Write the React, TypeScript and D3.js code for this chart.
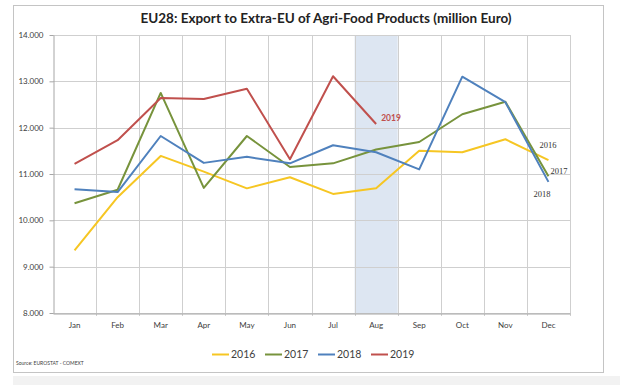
import React, {useEffect, useRef} from 'react';
import * as d3 from 'd3';

// chart data (million Euro)
const months = ['Jan', 'Feb', 'Mar', 'Apr', 'May', 'Jun', 'Jul', 'Aug', 'Sep', 'Oct', 'Nov', 'Dec'];
const years = ['2016', '2017', '2018', '2019'];
const values2016 = [9350, 10500, 11390, 11050, 10690, 10930, 10570, 10690, 11500, 11470, 11750, 11300];
const values2017 = [10370, 10660, 12750, 10700, 11820, 11150, 11230, 11530, 11690, 12290, 12560, 10950];
const values2018 = [10670, 10610, 11820, 11240, 11370, 11230, 11620, 11470, 11100, 13100, 12550, 10830];
const values2019 = [11220, 11730, 12640, 12620, 12840, 11320, 13110, 12080];
const yTicks = [8000, 9000, 10000, 11000, 12000, 13000, 14000];
const colors = ['#f6c623', '#77933c', '#4f81bd', '#c0504d'];

export default function App() {
  const svgRef = useRef(null);

  useEffect(() => {
    const svg = d3.select(svgRef.current);
    svg.selectAll('*').remove();

    const W = 620, H = 385;
    const left = 53, right = 570, top = 35, bottom = 313;
    const font = 'Lato, "Open Sans", sans-serif';

    // grey strip at the bottom of the page
    svg.append('rect').attr('x', 13).attr('y', 376).attr('width', W - 13).attr('height', H - 376).attr('fill', '#f2f2f2');
    // frame
    svg.append('rect').attr('x', 13.5).attr('y', 5.5).attr('width', 590).attr('height', 367)
      .attr('fill', '#fff').attr('stroke', '#c4c4c4');

    const x = d3.scaleBand().domain(months).range([left, right]);
    const y = d3.scaleLinear().domain([8000, 14000]).range([bottom, top]);
    const fmt = d3.formatLocale({decimal: ',', thousands: '.', grouping: [3], currency: ['', '']}).format(',');

    // highlighted month
    svg.append('rect').attr('x', x('Aug')).attr('y', top).attr('width', x.bandwidth()).attr('height', bottom - top)
      .attr('fill', '#dde6f2');

    // grid
    const g = svg.append('g');
    g.selectAll('.h').data(yTicks).enter().append('line')
      .attr('x1', left).attr('x2', right)
      .attr('y1', (d) => Math.round(y(d)) + 0.5).attr('y2', (d) => Math.round(y(d)) + 0.5)
      .attr('stroke', '#cfcfcf');
    g.selectAll('.v').data(months.slice(1).concat(['end'])).enter().append('line')
      .attr('x1', (d) => Math.round(d === 'end' ? right : x(d)) + 0.5)
      .attr('x2', (d) => Math.round(d === 'end' ? right : x(d)) + 0.5)
      .attr('y1', top).attr('y2', bottom + 3)
      .attr('stroke', '#cfcfcf');

    // axes
    const yAxis = svg.append('g').attr('transform', `translate(${left + 0.5},0)`)
      .call(d3.axisLeft(y).tickValues(yTicks).tickSize(4).tickSizeOuter(0).tickFormat((d) => fmt(d)));
    yAxis.select('.domain').attr('stroke', '#a6a6a6');
    yAxis.selectAll('line').attr('stroke', '#a6a6a6');
    yAxis.selectAll('text').attr('font-family', font).attr('font-size', 8).attr('fill', '#404040').attr('x', -10);

    const xAxis = svg.append('g').attr('transform', `translate(0,${Math.round(bottom) + 0.5})`)
      .call(d3.axisBottom(x).tickSize(0).tickPadding(9));
    xAxis.select('.domain').attr('stroke', '#a6a6a6');
    xAxis.selectAll('text').attr('font-family', font).attr('font-size', 8).attr('fill', '#404040');

    // lines
    const series = [values2016, values2017, values2018, values2019];
    const line = d3.line().x((d, i) => x(months[i]) + x.bandwidth() / 2).y((d) => y(d));
    series.forEach((vals, i) => {
      svg.append('path').datum(vals).attr('d', line).attr('fill', 'none')
        .attr('stroke', colors[i]).attr('stroke-width', 2).attr('stroke-linejoin', 'round');
    });

    // end labels
    const last = (arr) => arr[arr.length - 1];
    const xEnd = (arr) => x(months[arr.length - 1]) + x.bandwidth() / 2;
    svg.append('text').attr('x', xEnd(values2019) + 5).attr('y', y(last(values2019)) - 3)
      .attr('font-family', font).attr('font-weight', 'bold').attr('font-size', 8.5).attr('fill', '#c0504d').text('2019');
    const endLabels = [
      {yr: '2016', dx: -9, dy: -12},
      {yr: '2017', dx: 2, dy: -2},
      {yr: '2018', dx: -15, dy: 15},
    ];
    endLabels.forEach((l, i) => {
      const vals = series[i];
      svg.append('text').attr('x', xEnd(vals) + l.dx).attr('y', y(last(vals)) + l.dy)
        .attr('font-family', '"Liberation Serif", serif').attr('font-size', 8.5).attr('fill', '#333').text(l.yr);
    });

    // title
    svg.append('text').attr('x', 326).attr('y', 23).attr('text-anchor', 'middle')
      .attr('font-family', font).attr('font-weight', 'bold').attr('font-size', 13.5).attr('fill', '#222')
      .text('EU28: Export to Extra-EU of Agri-Food Products (million Euro)');

    // legend
    const lg = svg.append('g').attr('transform', 'translate(212,358)');
    years.forEach((yr, i) => {
      const it = lg.append('g').attr('transform', `translate(${i * 53},0)`);
      it.append('line').attr('x1', 0).attr('x2', 17).attr('y1', -3.5).attr('y2', -3.5)
        .attr('stroke', colors[i]).attr('stroke-width', 2);
      it.append('text').attr('x', 19).attr('y', 0).attr('font-family', font).attr('font-size', 10.5)
        .attr('fill', '#404040').text(yr);
    });

    // source
    svg.append('text').attr('x', 16).attr('y', 365).attr('font-family', font).attr('font-size', 5)
      .attr('fill', '#404040').text('Source: EUROSTAT - COMEXT');
  }, []);

  return (
    <svg ref={svgRef} width={620} height={385} style={{position: 'absolute', left: 0, top: 0, background: '#fff'}} />
  );
}
